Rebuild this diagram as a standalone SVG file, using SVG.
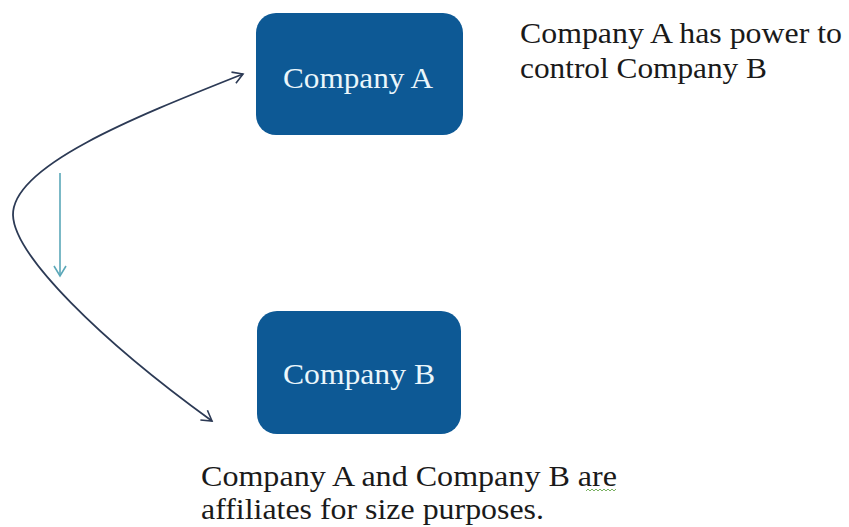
<svg xmlns="http://www.w3.org/2000/svg" width="849" height="527" viewBox="0 0 849 527">
<style>
.box{fill:#0d5995;}
.boxtxt{font-family:'Liberation Serif','Times New Roman',Tinos,'Noto Serif','DejaVu Serif',serif;font-size:30px;fill:#eaf6fb;text-anchor:middle;}
.txt{font-family:'Liberation Serif','Times New Roman',Tinos,'Noto Serif','DejaVu Serif',serif;font-size:30px;fill:#1a1a1a;}
</style>
<defs>
<marker id="navy" markerWidth="14" markerHeight="14" refX="11" refY="7" orient="auto" markerUnits="userSpaceOnUse">
<path d="M1,1 L11,7 L1,13" fill="none" stroke="#2c3a55" stroke-width="1.6"/>
</marker>
<marker id="teal" markerWidth="14" markerHeight="14" refX="11" refY="7" orient="auto" markerUnits="userSpaceOnUse">
<path d="M1,1 L11,7 L1,13" fill="none" stroke="#5aa7b8" stroke-width="1.6"/>
</marker>
</defs>
<rect width="849" height="527" fill="#ffffff"/>
<g id="connectors">
<path d="M13 215 C12 165 140 115 243 74" fill="none" stroke="#2c3a55" stroke-width="1.8" marker-end="url(#navy)"/>
<path d="M13 215 C14 255 100 340 212 421" fill="none" stroke="#2c3a55" stroke-width="1.8" marker-end="url(#navy)"/>
<line x1="60" y1="173" x2="60" y2="276" stroke="#5aa7b8" stroke-width="1.6" marker-end="url(#teal)"/>
</g>
<g id="companyA">
<rect class="box" x="256" y="13" width="207" height="122" rx="20"/>
<text class="boxtxt" x="358" y="88" textLength="150" lengthAdjust="spacingAndGlyphs">Company A</text>
</g>
<g id="companyB">
<rect class="box" x="257" y="311" width="204" height="123" rx="20"/>
<text class="boxtxt" x="359" y="384" textLength="152" lengthAdjust="spacingAndGlyphs">Company B</text>
</g>
<g id="labelTop">
<text class="txt" x="520" y="43" textLength="322" lengthAdjust="spacingAndGlyphs">Company A has power to</text>
<text class="txt" x="520" y="78" textLength="247" lengthAdjust="spacingAndGlyphs">control Company B</text>
</g>
<g id="labelBottom">
<text class="txt" x="201" y="486" textLength="416" lengthAdjust="spacingAndGlyphs">Company A and Company B are</text>
<text class="txt" x="201" y="519" textLength="343" lengthAdjust="spacingAndGlyphs">affiliates for size purposes.</text>
<path d="M586 491 l2 -2 l2 2 l2 -2 l2 2 l2 -2 l2 2 l2 -2 l2 2 l2 -2 l2 2 l2 -2 l2 2 l2 -2 l2 2 l2 -2" fill="none" stroke="#6aa84f" stroke-width="0.9"/>
</g>
</svg>
